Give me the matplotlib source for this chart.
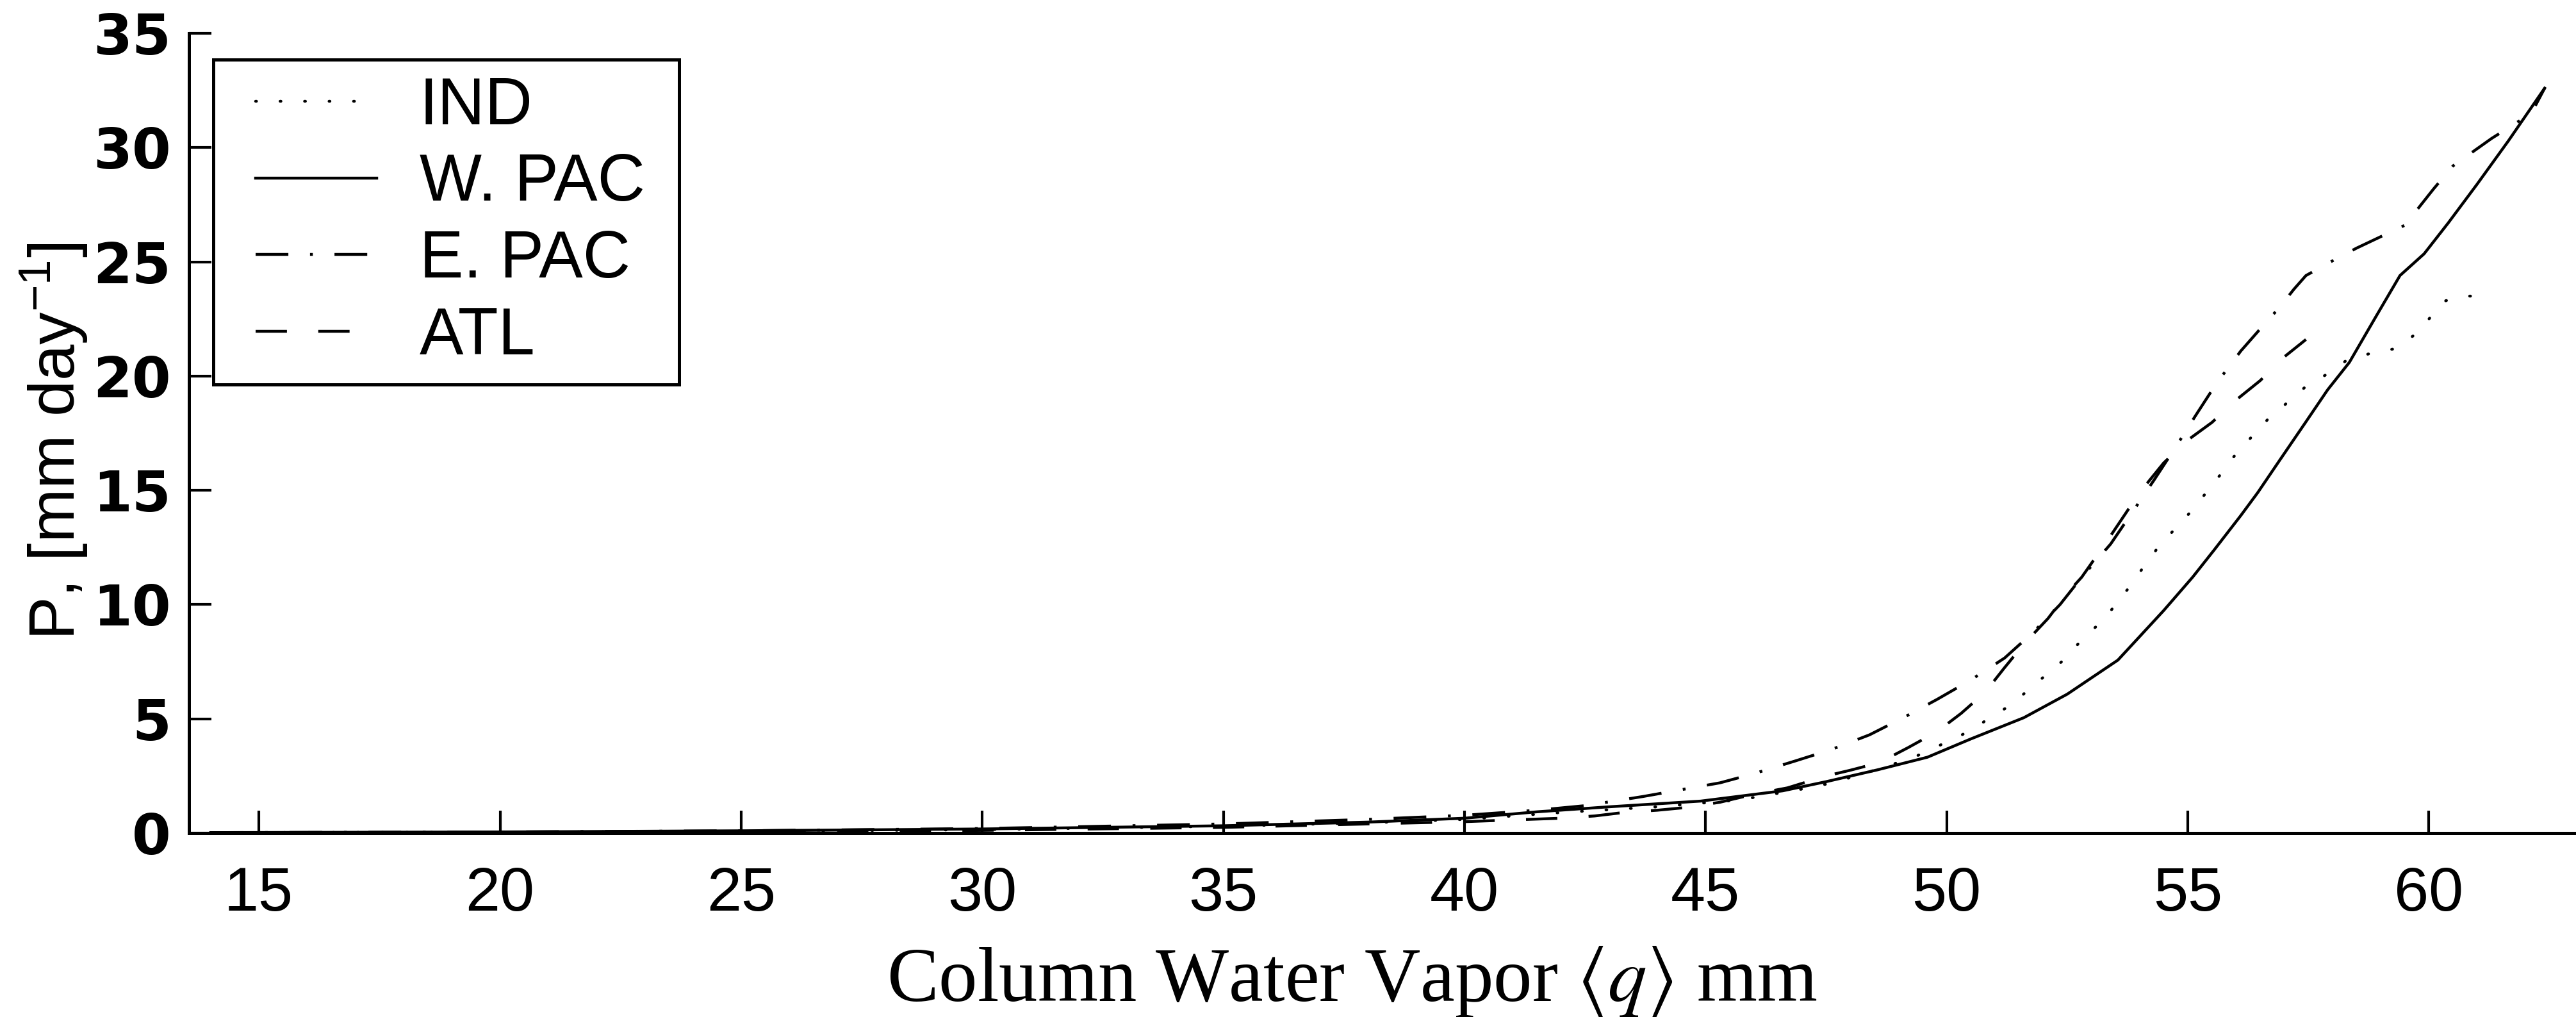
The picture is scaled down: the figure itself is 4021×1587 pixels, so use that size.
import matplotlib
matplotlib.use("Agg")
import matplotlib.pyplot as plt
from matplotlib import font_manager
from matplotlib.legend_handler import HandlerLine2D

# precipitation (mm/day) binned by column water vapour (mm), per ocean basin
ind_q = [14, 20, 25, 30, 35, 38, 40, 42, 44, 45.7, 47.2, 47.7, 48.5, 49.3, 50.0,
         50.5, 50.9, 51.35, 51.7, 52.1, 52.5, 52.8, 53.2, 53.5, 53.8, 54.1, 54.4,
         54.75, 55.1, 55.4, 55.7, 56.0, 56.35, 56.7, 57.1, 57.45, 57.9, 58.3, 58.8,
         59.3, 59.7, 60.0, 60.35, 60.8, 61.3]
ind_p = [0.02, 0.04, 0.08, 0.15, 0.3, 0.45, 0.6, 0.9, 1.15, 1.45, 2.0, 2.24, 2.75,
         3.3, 3.98, 4.49, 5.05, 5.63, 6.28, 6.99, 7.71, 8.47, 9.23, 9.98, 10.8,
         11.7, 12.55, 13.35, 14.15, 14.95, 15.75, 16.6, 17.4, 18.2, 18.9, 19.55,
         20.1, 20.7, 21.0, 21.2, 21.8, 22.5, 23.3, 23.5, 23.5]

wpac_q = [14, 20, 25, 30, 35, 38, 40, 41.5, 43, 44.9, 46.6, 47.5, 48.55, 49.6,
          50.5, 51.6, 52.5, 53.55, 54.5, 55.1, 55.55, 56.1, 56.45, 56.9, 57.45,
          57.9, 58.35, 58.9, 59.4, 59.9, 60.4, 61.0, 61.65, 62.4]
wpac_p = [0.02, 0.05, 0.1, 0.18, 0.32, 0.48, 0.65, 0.93, 1.15, 1.4, 1.85, 2.25,
          2.76, 3.32, 4.12, 5.05, 6.08, 7.57, 9.74, 11.2, 12.4, 13.9, 14.9, 16.3,
          18.0, 19.4, 20.6, 22.6, 24.4, 25.35, 26.7, 28.4, 30.3, 32.6]

epac_q = [14, 20, 25, 30, 35, 38, 40, 41.5, 42.5, 43.7, 44.5, 45.3, 46.0, 46.85,
          47.6, 48.4, 49.1, 49.8, 50.5, 51.2, 51.8, 52.35, 52.8, 53.4, 53.9, 54.3,
          54.75, 55.17, 55.6, 56.1, 56.6, 56.9, 57.2, 57.45, 58.05, 58.5, 59.0,
          59.5, 59.8, 60.1, 60.5, 60.9, 61.3, 61.9, 62.2, 62.4]
epac_p = [0.02, 0.05, 0.1, 0.2, 0.4, 0.6, 0.78, 1.0, 1.2, 1.6, 1.9, 2.2, 2.6, 3.15,
          3.65, 4.3, 5.05, 5.85, 6.7, 7.66, 8.8, 10.0, 11.2, 12.65, 14.2, 15.45,
          16.9, 18.3, 19.7, 21.1, 22.3, 23.0, 23.8, 24.4, 25.1, 25.6, 26.1, 26.6,
          27.4, 28.2, 29.2, 29.8, 30.4, 31.2, 31.8, 32.6]

atl_q = [14, 20, 25, 30, 35, 38, 40, 42.0, 42.7, 43.3, 44.0, 44.6, 45.3, 46.0, 46.7,
         47.5, 48.0, 48.6, 49.2, 49.8, 50.3, 50.8, 51.2, 51.6, 52.1, 52.5, 52.8,
         53.3, 54.0, 54.5, 55.0, 55.5, 56.0, 56.5, 57.0, 57.45]
atl_p = [0.01, 0.03, 0.06, 0.12, 0.25, 0.4, 0.5, 0.65, 0.75, 0.9, 1.0, 1.12, 1.35,
         1.7, 1.98, 2.5, 2.75, 3.08, 3.74, 4.44, 5.24, 6.17, 7.24, 8.27, 9.39,
         10.5, 11.2, 12.7, 14.9, 16.2, 17.2, 17.97, 18.95, 19.8, 20.84, 21.6]

x_ticks = [15, 20, 25, 30, 35, 40, 45, 50, 55, 60]
y_ticks = [0, 5, 10, 15, 20, 25, 30, 35]

names = {f.name for f in font_manager.fontManager.ttflist}
narrow = "Liberation Sans Narrow" if "Liberation Sans Narrow" in names else "Liberation Sans"

plt.rcParams["font.family"] = ["Liberation Sans", "DejaVu Sans"]
plt.rcParams["mathtext.fontset"] = "stix"
plt.rcParams["mathtext.default"] = "regular"

W, H = 4021, 1587
fig = plt.figure(figsize=(W / 100, H / 100), dpi=100)
ax = fig.add_axes([295 / W, 1 - 1300 / H, 1 - 295 / W, (1300 - 52) / H])

lw = 3.2
ax.plot(ind_q, ind_p, color="black", lw=lw, linestyle=(0, (0.3, 8.3)),
        dash_capstyle="round", label="IND")
ax.plot(wpac_q, wpac_p, color="black", lw=lw, linestyle="-", label="W. PAC")
ax.plot(epac_q, epac_p, color="black", lw=lw,
        linestyle=(0, (11.5, 7.6, 1.0, 7.6)), label="E. PAC")
ax.plot(atl_q, atl_p, color="black", lw=lw, linestyle=(0, (11, 11)), label="ATL")

ax.set_xlim(13.55, 63.05)
ax.set_ylim(0, 35)
ax.set_xticks(x_ticks)
ax.set_yticks(y_ticks)
for side in ("top", "right"):
    ax.spines[side].set_visible(False)
for side in ("left", "bottom"):
    ax.spines[side].set_linewidth(3.6)
ax.tick_params(direction="in", length=25, width=3)
ax.tick_params(axis="x", pad=37)
ax.tick_params(axis="y", pad=20)
for t in ax.get_xticklabels():
    t.set_fontfamily(narrow)
    t.set_fontsize(70)
for t in ax.get_yticklabels():
    t.set_fontfamily("DejaVu Sans")
    t.set_fontweight("bold")
    t.set_fontsize(63)

ax.set_ylabel(r"P, [mm day$^{-1}$]", fontsize=73)
ax.yaxis.set_label_coords(-0.0416, 0.49)

fig.text(2110 / W, 1 - 1562 / H, r"Column Water Vapor $\langle \mathit{q} \rangle$ mm",
         fontsize=87, family="Liberation Serif", ha="center", va="baseline")

# legend frame spans x 333..1060 px, y 93..585 px in the original
hmap = {h: HandlerLine2D(xpad=0.39) for h in ax.get_lines()}
leg = ax.legend(loc="upper left", bbox_to_anchor=(38 / 3726, 0.573, 727 / 3726, 0.394),
                mode="expand", borderaxespad=0, fontsize=74, handlelength=2.23,
                handletextpad=0.65, labelspacing=0.22, borderpad=0.25,
                fancybox=False, framealpha=1, edgecolor="black", handler_map=hmap)
leg.get_frame().set_linewidth(3.6)

fig.savefig("out.png", dpi=100)
